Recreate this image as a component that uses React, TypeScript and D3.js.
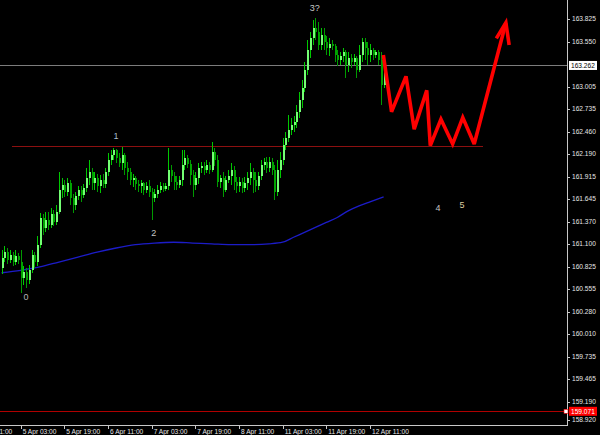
import React from 'react';
import * as d3 from 'd3';

const W = 600;
const H = 435;

// OHLC per H1 bar: [open, high, low, close]
const ohlc: [number, number, number, number][] = [
  [160.807,161.025,160.734,160.928],[160.928,161.073,160.879,161.000],[161.000,161.049,160.855,160.903],
  [160.903,161.025,160.867,160.964],[160.964,161.000,160.831,160.879],[160.879,161.025,160.843,160.952],
  [160.952,160.988,160.855,160.903],[160.879,161.025,160.504,160.685],[160.685,160.831,160.600,160.758],
  [160.758,160.807,160.564,160.661],[160.661,160.843,160.613,160.782],[160.782,161.025,160.746,160.964],
  [160.964,161.000,160.807,160.879],[160.879,161.194,160.831,161.085],[161.085,161.473,161.049,161.413],
  [161.413,161.461,161.207,161.291],[161.291,161.485,161.243,161.388],[161.388,161.485,161.267,161.328],
  [161.328,161.534,161.291,161.461],[161.461,161.510,161.316,161.364],[161.364,161.570,161.328,161.485],
  [161.485,161.970,161.461,161.752],[161.752,161.897,161.655,161.813],[161.813,161.873,161.667,161.728],
  [161.728,161.897,161.679,161.837],[161.837,161.873,161.570,161.655],[161.655,161.704,161.473,161.570],
  [161.570,161.728,161.510,161.679],[161.679,161.800,161.631,161.752],[161.752,161.800,161.607,161.691],
  [161.691,161.825,161.655,161.776],[161.776,162.019,161.728,161.897],[161.897,162.116,161.813,161.970],
  [161.970,162.019,161.752,161.837],[161.837,161.970,161.752,161.897],[161.897,161.946,161.728,161.800],
  [161.800,161.934,161.716,161.873],[161.873,161.946,161.776,161.825],[161.825,162.019,161.776,161.970],
  [161.970,162.200,161.922,162.116],[162.116,162.237,162.055,162.176],[162.176,162.261,162.116,162.237],
  [162.237,162.249,162.079,162.140],[162.140,162.200,162.031,162.079],[162.079,162.273,161.994,162.176],
  [162.176,162.200,161.934,162.019],[162.019,162.091,161.873,161.970],[161.970,162.019,161.813,161.873],
  [161.873,161.946,161.788,161.897],[161.897,161.922,161.752,161.825],[161.825,161.873,161.728,161.800],
  [161.800,161.873,161.716,161.837],[161.837,161.849,161.691,161.752],[161.752,161.849,161.716,161.800],
  [161.800,161.873,161.667,161.728],[161.728,161.776,161.388,161.655],[161.655,161.764,161.607,161.704],
  [161.704,161.813,161.655,161.752],[161.752,161.849,161.716,161.800],[161.800,161.837,161.728,161.764],
  [161.764,161.837,161.740,161.800],[161.800,162.261,161.752,161.994],[161.994,162.055,161.849,161.922],
  [161.922,161.970,161.752,161.849],[161.849,161.922,161.752,161.813],[161.813,161.922,161.776,161.873],
  [161.873,162.237,161.800,162.055],[162.055,162.237,161.994,162.140],[162.140,162.176,162.019,162.067],
  [162.067,162.116,161.813,161.934],[161.934,161.994,161.667,161.813],[161.813,161.970,161.752,161.897],
  [161.897,162.079,161.825,162.019],[162.019,162.091,161.958,162.043],[162.043,162.091,161.934,161.994],
  [161.994,162.116,161.958,162.055],[162.055,162.091,161.946,161.994],[161.994,162.334,161.970,162.213],
  [162.213,162.261,162.043,162.116],[162.116,162.176,161.788,161.849],[161.849,161.934,161.776,161.897],
  [161.897,161.970,161.667,161.752],[161.752,161.922,161.728,161.873],[161.873,161.994,161.837,161.922],
  [161.922,162.079,161.813,161.994],[161.994,162.043,161.752,161.849],[161.849,161.910,161.716,161.800],
  [161.800,161.910,161.728,161.849],[161.849,161.897,161.716,161.776],[161.776,161.910,161.728,161.837],
  [161.837,161.970,161.752,161.897],[161.897,162.079,161.813,161.970],[161.970,162.019,161.716,161.873],
  [161.873,161.970,161.728,161.800],[161.800,161.970,161.752,161.922],[161.922,162.116,161.873,162.055],
  [162.055,162.140,161.994,162.091],[162.091,162.152,161.958,162.019],[162.019,162.152,161.970,162.091],
  [162.091,162.140,161.934,161.994],[161.994,162.055,161.631,161.728],[161.728,162.116,161.679,161.994],
  [161.994,162.213,161.897,162.116],[162.116,162.382,162.055,162.298],[162.298,162.455,162.237,162.382],
  [162.382,162.661,162.334,162.479],[162.479,162.625,162.419,162.540],[162.540,162.649,162.455,162.576],
  [162.576,162.782,162.504,162.697],[162.697,162.940,162.625,162.843],[162.843,163.085,162.746,162.988],
  [162.988,163.304,162.940,163.207],[163.207,163.570,163.146,163.449],[163.449,163.667,163.352,163.594],
  [163.594,163.813,163.510,163.716],[163.716,163.837,163.570,163.667],[163.667,163.788,163.449,163.510],
  [163.510,163.716,163.449,163.631],[163.631,163.716,163.449,163.546],[163.546,163.619,163.388,163.473],
  [163.473,163.594,163.376,163.522],[163.522,163.570,163.449,163.497],[163.497,163.522,163.304,163.388],
  [163.388,163.449,163.255,163.328],[163.328,163.425,163.267,163.376],[163.376,163.473,163.304,163.425],
  [163.425,163.449,163.110,163.267],[163.267,163.425,163.182,163.352],[163.352,163.400,163.231,163.304],
  [163.304,163.400,163.267,163.352],[163.352,163.376,163.110,163.207],[163.207,163.510,163.182,163.388],
  [163.388,163.594,163.304,163.546],[163.546,163.594,163.328,163.473],[163.473,163.546,163.267,163.388],
  [163.388,163.522,163.304,163.449],[163.449,163.473,163.328,163.388],[163.388,163.449,163.352,163.425],
  [163.425,163.449,163.267,163.328],[163.328,163.425,162.782,163.025],[163.025,163.388,162.988,163.267],
];

// Moving average (bar index, value)
const maIndex = [0, 7, 14, 21, 28, 35, 42, 49, 56, 63, 70, 77, 84, 91, 98, 103, 107, 111, 115, 119, 123, 127, 131, 135, 140];
const maValue = [160.75, 160.78, 160.82, 160.88, 160.94, 161.0, 161.05, 161.09, 161.11, 161.12, 161.11, 161.1, 161.09, 161.09, 161.1, 161.12, 161.18, 161.24, 161.3, 161.36, 161.42, 161.5, 161.56, 161.61, 161.67];

// Time axis
const timeTickIndex = [-9, 7, 23, 39, 55, 71, 87, 103, 119, 135];
const timeTickLabels = ['4 Apr 11:00', '5 Apr 03:00', '5 Apr 19:00', '6 Apr 11:00', '7 Apr 03:00', '7 Apr 19:00', '8 Apr 11:00', '11 Apr 03:00', '11 Apr 19:00', '12 Apr 11:00'];

// Price axis
const priceTicks = [163.825, 163.55, 163.005, 162.735, 162.46, 162.19, 161.915, 161.645, 161.37, 161.1, 160.825, 160.555, 160.28, 160.01, 159.735, 159.465, 159.19, 158.92];
const lastPrice = 163.262;
const bidPrice = 159.071;
const levelPrice = 162.286;
const levelRange = [3.8, 176.4];

// Forecast arrow (bar index, price)
const arrowIndex = [139.9, 142.9, 148.2, 151.2, 155.8, 157.1, 161.0, 165.3, 169.0, 173.2, 184.8];
const arrowPrice = [163.39, 162.7, 163.13, 162.49, 162.96, 162.29, 162.61, 162.31, 162.63, 162.31, 163.78];
const headIndex = [181.3, 184.8, 186.0];
const headPrice = [163.59, 163.78, 163.51];

// Wave labels
const waveText = ['0', '1', '2', '3?', '4', '5'];
const waveIndex = [8.9, 41.9, 55.8, 114.8, 159.9, 168.7];
const wavePrice = [160.46, 162.41, 161.23, 163.96, 161.54, 161.57];
const waveColor = ['#b4b4b4', '#a8bccc', '#c4c4c4', '#c8c8c8', '#c4c4c4', '#dccca0'];

const FONT = '"Liberation Sans", Arial, sans-serif';

export default function App() {
  const plotR = 567;
  const plotB = 425;
  const x = d3.scaleLinear().domain([0, 207.2]).range([1.6, plotR]);
  const y = d3.scaleLinear().domain([159.19, 163.825]).range([401.5, 19]);

  const maLine = d3
    .line<number>()
    .x((_, i) => x(maIndex[i]))
    .y((d) => y(d))
    .curve(d3.curveMonotoneX)(maValue) as string;

  const arrowLine = d3
    .line<number>()
    .x((_, i) => x(arrowIndex[i]))
    .y((d) => y(d))(arrowPrice) as string;
  const headLine = d3
    .line<number>()
    .x((_, i) => x(headIndex[i]))
    .y((d) => y(d))(headPrice) as string;

  const snap = (v: number) => Math.round(v) + 0.5;

  return (
    <svg
      width={W}
      height={H}
      style={{ position: 'fixed', left: 0, top: 0, background: '#000' }}
    >
      <defs>
        <clipPath id="plot">
          <rect x={0} y={0} width={plotR} height={plotB} />
        </clipPath>
      </defs>
      <rect x={0} y={0} width={W} height={H} fill="#000" />
      <g clipPath="url(#plot)">
        {/* horizontal lines */}
        <g shapeRendering="crispEdges">
          <line x1={0} x2={plotR} y1={snap(y(lastPrice))} y2={snap(y(lastPrice))} stroke="#7c7c7c" strokeWidth={1} />
          <line x1={x(levelRange[0])} x2={x(levelRange[1])} y1={snap(y(levelPrice))} y2={snap(y(levelPrice))} stroke="#8c1010" strokeWidth={1} />
          <line x1={0} x2={plotR - 1} y1={snap(y(bidPrice))} y2={snap(y(bidPrice))} stroke="#b00000" strokeWidth={1} />
        </g>
        {/* MA */}
        <path d={maLine} fill="none" stroke="#1c1cc8" strokeWidth={1.3} />
        {/* candles */}
        <g shapeRendering="crispEdges">
          {ohlc.map((c, i) => {
            const [o, h, l, cl] = c;
            const cx = Math.round(x(i));
            const top = y(Math.max(o, cl));
            const bot = y(Math.min(o, cl));
            const bull = cl >= o;
            return (
              <g key={i}>
                <line x1={cx + 0.5} x2={cx + 0.5} y1={y(h)} y2={y(l)} stroke={bull ? '#00c800' : '#009a00'} strokeWidth={1} />
                <rect x={cx - 0.5} y={top} width={2} height={Math.max(1, bot - top)} fill={bull ? '#74ff74' : '#00a400'} />
              </g>
            );
          })}
        </g>
        {/* forecast arrow */}
        <path d={arrowLine} fill="none" stroke="#ff0000" strokeWidth={3.6} strokeLinejoin="miter" strokeMiterlimit={3} />
        <path d={headLine} fill="none" stroke="#ff0000" strokeWidth={3.6} strokeLinejoin="miter" strokeMiterlimit={4} />
        {/* wave labels */}
        {waveText.map((t, i) => (
          <text key={t} x={x(waveIndex[i])} y={y(wavePrice[i])} dy="0.35em" textAnchor="middle" fontFamily={FONT} fontSize={9} fill={waveColor[i]}>
            {t}
          </text>
        ))}
      </g>
      {/* axes */}
      <g shapeRendering="crispEdges" stroke="#c8c8c8">
        <line x1={plotR + 0.5} x2={plotR + 0.5} y1={0} y2={plotB + 0.5} />
        <line x1={0} x2={plotR + 0.5} y1={plotB + 0.5} y2={plotB + 0.5} />
        {priceTicks.map((p) => (
          <line key={p} x1={plotR} x2={plotR + 3} y1={snap(Math.min(y(p), 420))} y2={snap(Math.min(y(p), 420))} />
        ))}
        {timeTickIndex.map((t) => (
          <line key={t} x1={snap(x(t))} x2={snap(x(t))} y1={plotB} y2={plotB + 4} />
        ))}
      </g>
      {priceTicks.map((p) => (
        <text key={p} x={plotR + 5} y={Math.min(y(p), 420)} dy="0.35em" fontFamily={FONT} fontSize={6.6} fill="#e6e6e6">
          {p.toFixed(3)}
        </text>
      ))}
      {timeTickIndex.map((t, i) => (
        <text key={t} x={x(t) + 2} y={433.5} fontFamily={FONT} fontSize={6.6} fill="#e6e6e6">
          {timeTickLabels[i]}
        </text>
      ))}
      {/* price labels */}
      <rect x={plotR + 2} y={y(lastPrice) - 4.5} width={28} height={9} fill="#ffffff" />
      <text x={plotR + 4} y={y(lastPrice)} dy="0.35em" fontFamily={FONT} fontSize={6.6} fill="#000">
        {lastPrice.toFixed(3)}
      </text>
      <rect x={plotR - 3} y={y(bidPrice) - 2} width={4} height={4} fill="#ffffff" stroke="#ff0000" strokeWidth={0.6} />
      <rect x={plotR + 2} y={y(bidPrice) - 4.5} width={28} height={9} fill="#ff0000" />
      <text x={plotR + 4} y={y(bidPrice)} dy="0.35em" fontFamily={FONT} fontSize={6.6} fill="#ffffff">
        {bidPrice.toFixed(3)}
      </text>
    </svg>
  );
}
